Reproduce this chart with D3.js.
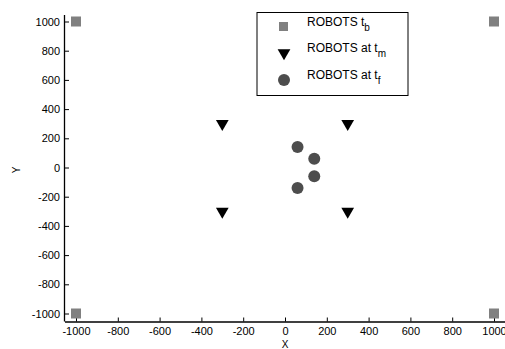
<!DOCTYPE html>
<html>
<head>
<meta charset="utf-8">
<script src="https://cdn.jsdelivr.net/npm/d3@7/dist/d3.min.js"></script>
<style>
body { margin: 0; background: #fff; }
svg { display: block; font-family: "Liberation Sans", Arial, sans-serif; }
</style>
</head>
<body>
<div id="chart"></div>
<script>
// robot positions
var startX = [-1000, 1000, -1000, 1000];
var startY = [1000, 1000, -1000, -1000];
var midX = [-300, 300, -300, 300];
var midY = [300, 300, -300, -300];
var finalX = [60, 140, 140, 60];
var finalY = [140, 60, -60, -140];
var xTicks = [-1000, -800, -600, -400, -200, 0, 200, 400, 600, 800, 1000];
var yTicks = [-1000, -800, -600, -400, -200, 0, 200, 400, 600, 800, 1000];

var W = 505, H = 349;
var svg = d3.select("#chart").append("svg")
    .attr("width", W)
    .attr("height", H);

var x = d3.scaleLinear().domain([-1000, 1000]).range([76, 494]);
var y = d3.scaleLinear().domain([-1000, 1000]).range([313.5, 21.5]);

var x0 = 65, y0 = 321.5;
var fmt = function(d) { return String(d); };

// axes, ticks pointing inward
var xAxis = svg.append("g")
    .attr("transform", "translate(0," + y0 + ")")
    .call(d3.axisBottom(x).tickValues(xTicks).tickFormat(fmt)
        .tickSizeInner(-4).tickSizeOuter(0).tickPadding(6));
xAxis.select(".domain").attr("d", "M" + x0 + ",0.5H" + W);

var yAxis = svg.append("g")
    .attr("transform", "translate(" + x0 + ",0)")
    .call(d3.axisLeft(y).tickValues(yTicks).tickFormat(fmt)
        .tickSizeInner(-4).tickSizeOuter(0).tickPadding(5));
yAxis.select(".domain").attr("d", "M-0.5,15V" + y0);

svg.selectAll(".tick text")
    .attr("font-size", 11)
    .attr("font-family", "Liberation Sans, Arial, sans-serif")
    .attr("fill", "#000");
svg.selectAll(".domain").attr("stroke", "#000").attr("stroke-width", 1.3);
svg.selectAll(".tick line").attr("stroke", "#000");

svg.append("text")
    .attr("x", 285).attr("y", 348)
    .attr("text-anchor", "middle")
    .attr("font-size", 10)
    .text("X");

svg.append("text")
    .attr("transform", "translate(20,170) rotate(-90)")
    .attr("text-anchor", "middle")
    .attr("font-size", 10)
    .text("Y");

// start squares
svg.selectAll(".sq")
    .data(d3.range(startX.length))
    .enter().append("rect")
    .attr("x", function(i) { return x(startX[i]) - 5; })
    .attr("y", function(i) { return y(startY[i]) - 5; })
    .attr("width", 10).attr("height", 10)
    .attr("fill", "#808080");

// mid triangles
var tri = d3.symbol().type(d3.symbolTriangle).size(70);
svg.selectAll(".tri")
    .data(d3.range(midX.length))
    .enter().append("path")
    .attr("d", tri)
    .attr("transform", function(i) {
        return "translate(" + x(midX[i]) + "," + y(midY[i]) + ") rotate(180)";
    })
    .attr("fill", "#000");

// final circles
svg.selectAll(".dot")
    .data(d3.range(finalX.length))
    .enter().append("circle")
    .attr("cx", function(i) { return x(finalX[i]); })
    .attr("cy", function(i) { return y(finalY[i]); })
    .attr("r", 6)
    .attr("fill", "#4d4d4d");

// legend
var lg = svg.append("g");
lg.append("rect")
    .attr("x", 257).attr("y", 12.5)
    .attr("width", 151).attr("height", 83)
    .attr("fill", "#fff").attr("stroke", "#000").attr("stroke-width", 1);

var rows = [26, 52, 79];
lg.append("rect").attr("x", 279).attr("y", rows[0] - 4).attr("width", 9).attr("height", 9).attr("fill", "#808080");
lg.append("path").attr("d", tri).attr("transform", "translate(284," + (rows[1] + 1) + ") rotate(180)").attr("fill", "#000");
lg.append("circle").attr("cx", 284).attr("cy", rows[2] + 1).attr("r", 6).attr("fill", "#4d4d4d");

var labels = [["ROBOTS t", "b"], ["ROBOTS at t", "m"], ["ROBOTS at t", "f"]];
labels.forEach(function(l, i) {
    var t = lg.append("text").attr("x", 307).attr("y", rows[i]).attr("font-size", 12);
    t.append("tspan").text(l[0]);
    t.append("tspan").attr("dy", 5).attr("font-size", 10).text(l[1]);
});
</script>
</body>
</html>
